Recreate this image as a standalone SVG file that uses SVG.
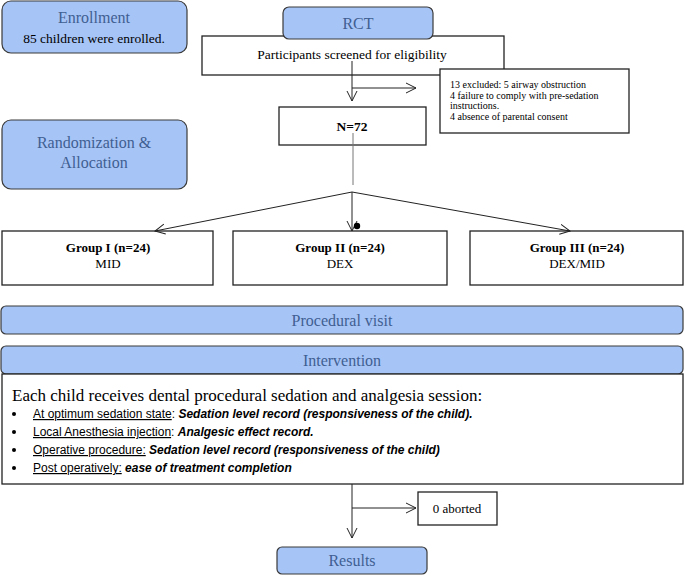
<svg xmlns="http://www.w3.org/2000/svg" width="685" height="576" viewBox="0 0 685 576">
<defs>
<style>
.blue{fill:#a7c4f6;stroke:#3a3a3a;stroke-width:1.2}
.box{fill:#fff;stroke:#222;stroke-width:1.3}
.ht{font-family:"Liberation Serif",serif;font-size:16px;fill:#3f5f92;text-anchor:middle}
.t{font-family:"Liberation Serif",serif;fill:#000;text-anchor:middle}
.l{font-family:"Liberation Serif",serif;fill:#000;text-anchor:start}
.b{font-weight:bold}
.ln{stroke:#222;stroke-width:1;fill:none}
.s{font-family:"Liberation Sans",sans-serif;font-size:12px;fill:#000}
</style>
<marker id="ah" markerWidth="12" markerHeight="12" refX="10" refY="5" orient="auto" markerUnits="userSpaceOnUse" viewBox="0 0 12 10">
<path d="M0,0 L10,5 L0,10" fill="none" stroke="#222" stroke-width="1"/>
</marker>
</defs>
<rect width="685" height="576" fill="#fff"/>

<g id="enrollment">
<rect class="blue" x="2" y="1" width="185" height="52" rx="9"/>
<text class="ht" x="94" y="23">Enrollment</text>
<text class="t" x="94" y="43" font-size="13.5">85 children were enrolled.</text>
</g>

<g id="randomization">
<rect class="blue" x="2" y="120" width="185" height="69" rx="9"/>
<text class="ht" x="94" y="148">Randomization &amp;</text>
<text class="ht" x="94" y="168">Allocation</text>
</g>

<g id="screened">
<rect class="box" x="202" y="36" width="302" height="39"/>
<text class="t" x="352" y="59" font-size="13.5">Participants screened for eligibility</text>
</g>

<g id="rct">
<rect class="blue" x="283" y="7" width="150" height="32" rx="6"/>
<text class="ht" x="358" y="29">RCT</text>
</g>

<g id="excluded">
<rect class="box" x="440" y="69" width="189" height="64"/>
<text class="l" x="450" y="88" font-size="10">13 excluded: 5 airway obstruction</text>
<text class="l" x="450" y="98.5" font-size="10">4 failure to comply with pre-sedation</text>
<text class="l" x="450" y="109" font-size="10">instructions.</text>
<text class="l" x="450" y="119.5" font-size="10">4 absence of parental consent</text>
</g>

<g id="n72">
<rect class="box" x="279" y="107" width="147" height="38"/>
<text class="t b" x="352" y="131" font-size="13.5">N=72</text>
</g>

<g id="group1">
<rect class="box" x="2" y="231" width="211" height="54"/>
<text class="t b" x="108" y="252" font-size="13">Group I (n=24)</text>
<text class="t" x="108" y="268" font-size="13">MID</text>
</g>
<g id="group2">
<rect class="box" x="233" y="231" width="214" height="54"/>
<text class="t b" x="340" y="252" font-size="13">Group II (n=24)</text>
<text class="t" x="340" y="268" font-size="13">DEX</text>
</g>
<g id="group3">
<rect class="box" x="470" y="231" width="213" height="54"/>
<text class="t b" x="577" y="252" font-size="13">Group III (n=24)</text>
<text class="t" x="577" y="268" font-size="13">DEX/MID</text>
</g>

<g id="procedural">
<rect class="blue" x="1" y="306" width="682" height="28" rx="5"/>
<text class="ht" x="342" y="326">Procedural visit</text>
</g>

<g id="intervention">
<rect class="blue" x="1" y="346" width="682" height="28" rx="5"/>
<text class="ht" x="342" y="366">Intervention</text>
</g>

<g id="session">
<rect class="box" x="2" y="374" width="681" height="110"/>
<text class="l" x="12" y="401" font-size="17">Each child receives dental procedural sedation and analgesia session:</text>
<g class="s">
<circle cx="14" cy="414" r="2" fill="#000"/>
<text x="33" y="418"><tspan text-decoration="underline">At optimum sedation state</tspan>: <tspan font-weight="bold" font-style="italic">Sedation level record (responsiveness of the child).</tspan></text>
<circle cx="14" cy="432" r="2" fill="#000"/>
<text x="33" y="436"><tspan text-decoration="underline">Local Anesthesia injection</tspan>: <tspan font-weight="bold" font-style="italic">Analgesic effect record.</tspan></text>
<circle cx="14" cy="450" r="2" fill="#000"/>
<text x="33" y="454"><tspan text-decoration="underline">Operative procedure:</tspan> <tspan font-weight="bold" font-style="italic">Sedation level record (responsiveness of the child)</tspan></text>
<circle cx="14" cy="468" r="2" fill="#000"/>
<text x="33" y="472"><tspan text-decoration="underline">Post operatively:</tspan> <tspan font-weight="bold" font-style="italic">ease of treatment completion</tspan></text>
</g>
</g>

<g id="aborted">
<rect class="box" x="418" y="492" width="79" height="33"/>
<text class="t" x="457" y="513" font-size="13">0 aborted</text>
</g>

<g id="results">
<rect class="blue" x="277" y="547" width="150" height="27" rx="5"/>
<text class="ht" x="352" y="566">Results</text>
</g>

<g id="connectors">
<line class="ln" x1="352" y1="61" x2="352" y2="101" marker-end="url(#ah)"/>
<line class="ln" x1="352" y1="88" x2="416" y2="88" marker-end="url(#ah)"/>
<line x1="353" y1="133" x2="353" y2="185" stroke="#777" stroke-width="1"/>
<line class="ln" x1="352" y1="192" x2="155" y2="231" marker-end="url(#ah)"/>
<line class="ln" x1="352" y1="192" x2="352" y2="231" marker-end="url(#ah)"/>
<line class="ln" x1="352" y1="192" x2="570" y2="231" marker-end="url(#ah)"/>
<circle cx="357" cy="226" r="3.2" fill="#000"/>
<line class="ln" x1="352" y1="484" x2="352" y2="538" marker-end="url(#ah)"/>
<line class="ln" x1="352" y1="508" x2="416" y2="508" marker-end="url(#ah)"/>
</g>
</svg>
